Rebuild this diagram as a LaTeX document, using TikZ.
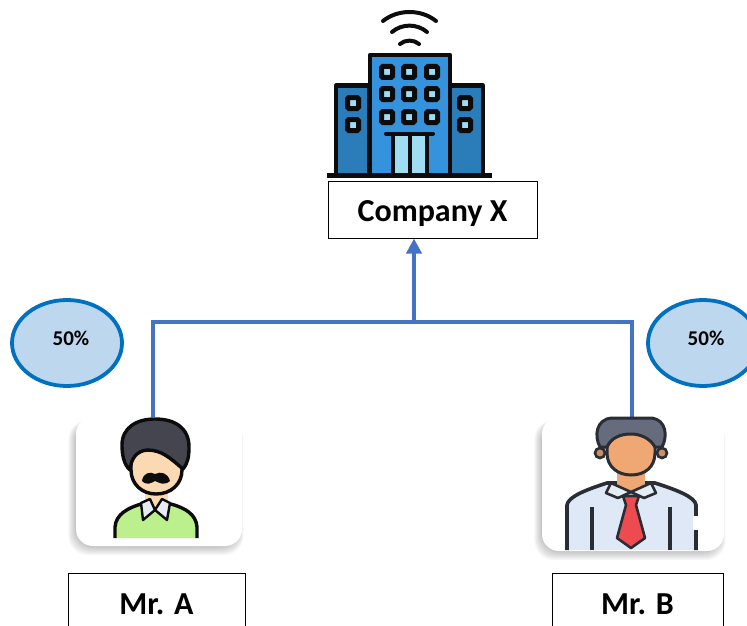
\documentclass[tikz,border=0pt]{standalone}
\usepackage{fontspec}
\setmainfont{Carlito}
\usetikzlibrary{arrows.meta,shapes.geometric}
\definecolor{conn}{HTML}{4472C4}
\definecolor{ovalline}{HTML}{0070C0}
\definecolor{ovalfill}{HTML}{BDD7EE}
\definecolor{towermid}{HTML}{3493DC}
\definecolor{towerside}{HTML}{2A7DB8}
\definecolor{glass}{HTML}{9FDDF2}
\definecolor{ink}{HTML}{0C0C0C}
\definecolor{hairA}{HTML}{45454F}
\definecolor{skinA}{HTML}{FBD9B2}
\definecolor{shirtA}{HTML}{BCF08C}
\definecolor{collar}{HTML}{E4EDF2}
\definecolor{hairB}{HTML}{666C7E}
\definecolor{skinB}{HTML}{EFA873}
\definecolor{shirtB}{HTML}{DFE8F6}
\definecolor{tie}{HTML}{EE4B50}
\definecolor{inkB}{HTML}{2A2D33}
\tikzset{
  x=1pt,y=-1pt,
  namebox/.style={draw=black,line width=1pt,fill=white,inner sep=0pt,font=\bfseries\fontsize{32}{36}\selectfont},
  oval/.style={ellipse,draw=ovalline,fill=ovalfill,line width=3.8pt,inner sep=0pt,minimum width=110pt,minimum height=86pt},
  pct/.style={font=\bfseries\fontsize{21}{24}\selectfont},
  link/.style={draw=conn,line width=3.8pt},
  card/.style={rounded corners=17pt,fill=white},
  outl/.style={draw=ink,line width=4.2pt,line join=round},
  wavearc/.style={draw=ink,line width=4pt,line cap=round},
  pane/.style={draw=ink,fill=glass,line width=5pt,rounded corners=1.5pt},
}
\newcommand{\softshadow}[4]{%
  \foreach \g in {0,...,9}{
    \fill[black,opacity=0.028,rounded corners=19pt]
      ({#1-\g*0.85},{#2+6-\g*0.3}) rectangle ({#3-4+\g*0.6},{#4+\g*1.0});
  }}
\begin{document}
\begin{tikzpicture}
\useasboundingbox (0,0) rectangle (747,626);
\clip (0,0) rectangle (747,626);
% building
\draw[wavearc] (383,21) .. controls (398,9) and (421,9) .. (436,21);
\draw[wavearc] (392,32) .. controls (402,23.5) and (417,23.5) .. (427,32);
\draw[wavearc] (400,44) .. controls (405,39.5) and (414,39.5) .. (419,44);
\draw[outl,fill=towerside] (336,175) -- (336,85.5) -- (369,85.5) -- (369,175) -- cycle;
\draw[outl,fill=towerside] (450,175) -- (450,85.5) -- (483,85.5) -- (483,175) -- cycle;
\draw[outl,fill=towermid] (370,175) -- (370,55) -- (450,55) -- (450,175) -- cycle;
\foreach \cx in {387,409,432}\foreach \cy in {72,94,117}{
  \draw[pane] (\cx-5.5,\cy-5.5) rectangle (\cx+5.5,\cy+5.5);}
\foreach \cx in {353,465}\foreach \cy in {103,125}{
  \draw[pane] (\cx-5.5,\cy-5.5) rectangle (\cx+5.5,\cy+5.5);}
\fill[glass] (393,134) rectangle (426,175);
\draw[ink,line width=4pt,line cap=round] (386,133.5) -- (433,133.5);
\draw[ink,line width=4pt] (392.5,133.5) -- (392.5,175);
\draw[ink,line width=4pt] (409.5,133.5) -- (409.5,175);
\draw[ink,line width=4pt] (426.5,133.5) -- (426.5,175);
\draw[ink,line width=5pt] (327,175) -- (492,175);
% connectors
\coordinate (joint) at (414,322);
\coordinate (leftcorner) at (153,322);
\coordinate (rightcorner) at (632,322);
\node[namebox,minimum width=209pt,minimum height=57pt] (company) at (432.5,209.5) {\raisebox{-12pt}[0pt][0pt]{Company X}};
\draw[link,-{Triangle[length=15pt,width=15pt]}] (joint) -- (joint |- company.south);
% ovals
\node[oval] (ovalA) at (67,343) {};
\node[oval] (ovalB) at (703,343) {};
\node[pct] (pctA) at (71,338) {50\%};
\node[pct] (pctB) at (706,338) {50\%};
% cards
\softshadow{76}{417}{242}{546}
\softshadow{542}{417}{724}{551}
\node[card,minimum width=166pt,minimum height=129pt,inner sep=0pt] (cardA) at (159,481.5) {};
\node[card,minimum width=182pt,minimum height=134pt,inner sep=0pt] (cardB) at (633,484) {};
\draw[link] (cardA.north -| leftcorner) -- (leftcorner) -- (joint);
\draw[link] (cardB.north -| rightcorner) -- (rightcorner) -- (joint);
% Mr. A
\draw[outl,line width=3.4pt,fill=shirtA] (115,538) -- (115,527) .. controls (116,514) and (128,508) .. (141,504) -- (171,504) .. controls (185,508) and (196,514) .. (197,527) -- (197,538);
\fill[skinA] (145,490) rectangle (168,510);
\draw[ink,line width=2.4pt,fill=collar,line join=round] (150,499) -- (141,503) -- (143,520) -- (155,510) -- (167,520) -- (170,503) -- (162,499) -- (155,510) -- cycle;
\draw[outl,line width=3.4pt,fill=skinA] (131,450) -- (131,470) .. controls (131,484) and (142,494) .. (156,494) .. controls (171,494) and (182,484) .. (182,470) -- (182,450) -- cycle;
\draw[outl,line width=3.4pt,fill=hairA] (130,470) .. controls (124,465) and (122,455) .. (122,445) .. controls (122,428) and (136,419) .. (155,419) .. controls (175,419) and (189,428) .. (189,447) .. controls (189,456) and (188,463) .. (183,469) .. controls (170,458) and (162,450) .. (147,450) .. controls (137,451) and (131,458) .. (130,470) -- cycle;
\fill[ink] (142,481) .. controls (143,473) and (150,471) .. (155,474) .. controls (161,471) and (168,473) .. (170,481) .. controls (164,486) and (160,483) .. (155,481) .. controls (151,483) and (147,486) .. (142,481) -- cycle;
% Mr. B
\draw[inkB,line width=3.6pt,fill=shirtB,line join=round] (567,550) -- (567,505) .. controls (568,497) and (585,490) .. (607,483) -- (655,483) .. controls (677,490) and (695,497) .. (696,505) -- (696,550);
\fill[white] (693,516) rectangle (699,530);
\draw[inkB,line width=3.6pt] (592,507) -- (592,550);
\draw[inkB,line width=3.6pt] (670,507) -- (670,550);
\fill[skinB] (617,470) rectangle (645,490);
\draw[inkB,line width=2.6pt,fill=collar,line join=round] (611,483) -- (606,493) -- (618,498) -- (631,492) -- (644,498) -- (656,493) -- (651,483) -- (631,492) -- cycle;
\draw[inkB,line width=2.6pt,fill=tie,line join=round] (623,496) -- (639,496) -- (636,505) -- (645,538) -- (631,548) -- (617,538) -- (626,505) -- cycle;
\draw[inkB,line width=2.6pt,fill=skinB!85!black] (600,453) circle (5);
\draw[inkB,line width=2.6pt,fill=skinB!85!black] (662,453) circle (5);
\draw[inkB,line width=3pt,fill=skinB] (607,428) -- (607,453) .. controls (607,467) and (618,475) .. (631,475) .. controls (645,475) and (655,467) .. (655,453) -- (655,428) -- cycle;
\draw[inkB,line width=3pt,fill=hairB,line join=round] (600,447) .. controls (594,436) and (596,419) .. (612,418) -- (652,418) .. controls (666,420) and (668,436) .. (662,447) -- (655,447) .. controls (650,438) and (640,434) .. (631,434) .. controls (620,434) and (611,438) .. (607,447) -- cycle;
% name boxes
\node[namebox,minimum width=177pt,minimum height=70pt] (nameA) at (156.5,608) {\raisebox{-6pt}[0pt][0pt]{Mr. A}};
\node[namebox,minimum width=171pt,minimum height=70pt] (nameB) at (637.5,608) {\raisebox{-6pt}[0pt][0pt]{Mr. B}};
\end{tikzpicture}
\end{document}
